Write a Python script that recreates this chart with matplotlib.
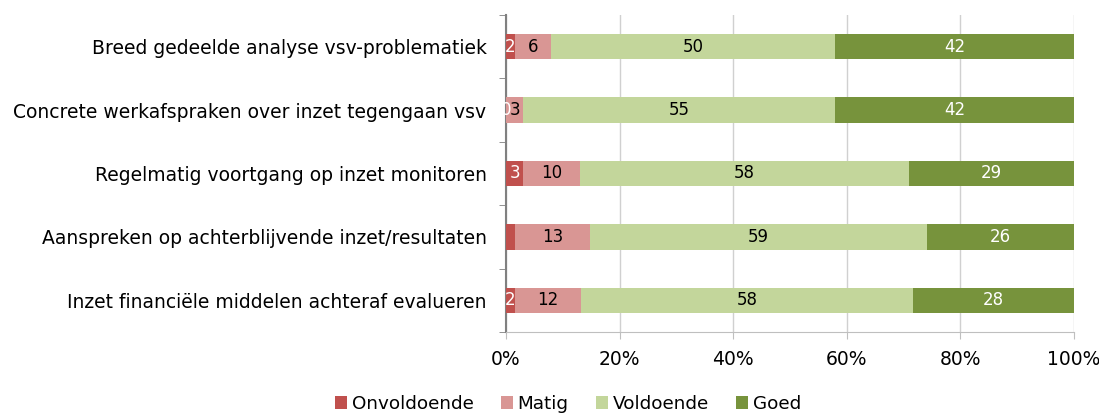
import matplotlib
matplotlib.use("Agg")
import matplotlib.pyplot as plt
import numpy as np

categories = [
    "Breed gedeelde analyse vsv-problematiek",
    "Concrete werkafspraken over inzet tegengaan vsv",
    "Regelmatig voortgang op inzet monitoren",
    "Aanspreken op achterblijvende inzet/resultaten",
    "Inzet financiële middelen achteraf evalueren",
]
series = ["Onvoldoende", "Matig", "Voldoende", "Goed"]
onvoldoende = [1.5, 0, 3, 1.5, 1.5]
matig = [6.5, 3, 10, 13.3, 11.7]
voldoende = [50, 55, 58, 59.3, 58.5]
goed = [42, 42, 29, 25.9, 28.3]
labels_onv = ["2", "0", "3", "", "2"]
colors = ["#C0504D", "#D99694", "#C3D69B", "#77933C"]
text_colors = ["white", "black", "black", "white"]

plt.rcParams['font.family'] = ['DejaVu Sans']
fig = plt.figure(figsize=(10.99, 4.15), dpi=100)
ax = fig.add_axes([506/1099, 83/415, 568/1099, 317/415])

data = [onvoldoende, matig, voldoende, goed]
y = np.arange(len(categories))
left = np.zeros(len(categories))
for si, vals in enumerate(data):
    vals = np.array(vals, dtype=float)
    ax.barh(y, vals, left=left, height=0.4, color=colors[si], label=series[si], zorder=3)
    for i, v in enumerate(vals):
        if si == 0:
            lab = labels_onv[i]
        else:
            lab = f"{int(round(v))}"
        if lab:
            ax.text(left[i] + v / 2, y[i], lab, ha="center", va="center",
                    fontsize=12, color=text_colors[si], zorder=4)
    left += vals

ax.set_xlim(0, 100)
ax.set_ylim(4.5, -0.5)
ax.set_xticks(np.arange(0, 101, 20))
ax.set_xticklabels([f"{t}%" for t in range(0, 101, 20)], fontsize=13.5)
ax.set_yticks(y)
ax.set_yticklabels(categories, fontsize=13.5)
ax.tick_params(axis="y", length=0, pad=14)
ax.set_yticks(np.arange(-0.5, 4.6, 1), minor=True)
ax.tick_params(axis="y", which="minor", length=5, color="#808080", direction="out")
ax.tick_params(axis="x", length=5, color="#BFBFBF", pad=8)
ax.grid(axis="x", color="#D0D0D0", linewidth=1, zorder=0)
for s in ["top", "right"]:
    ax.spines[s].set_visible(False)
ax.spines["left"].set_color("#808080")
ax.spines["left"].set_linewidth(1.5)
ax.spines["bottom"].set_color("#BFBFBF")

fig.legend(loc="lower center", bbox_to_anchor=(0.517, -0.035), ncol=4, frameon=False,
           fontsize=13.2, handlelength=0.65, handleheight=0.65, handletextpad=0.25,
           columnspacing=1.5)

fig.savefig("out.png", dpi=100)
